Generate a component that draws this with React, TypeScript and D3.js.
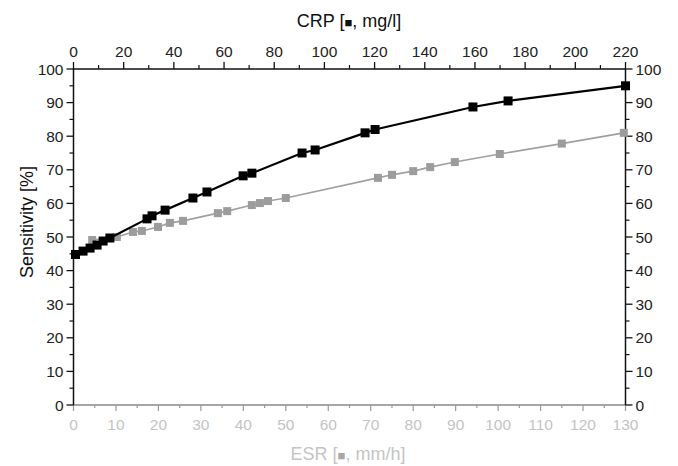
import React, { useRef, useEffect } from 'react';
import * as d3 from 'd3';

// CRP series (black), x in mg/l
const crpValues = [0.8, 3.8, 6.6, 9.4, 11.8, 14.5, 29.3, 31.3, 36.5, 47.6, 53.2, 67.6, 71.1, 91.1, 96.3, 116.2, 120.2, 159.2, 173.2, 220];
const crpSensitivity = [44.8, 45.8, 46.7, 47.6, 48.8, 49.7, 55.4, 56.3, 58.0, 61.6, 63.4, 68.2, 69.0, 75.0, 75.9, 81.0, 82.0, 88.7, 90.5, 95.0];

// ESR series (gray), x in mm/h
const esrValues = [4.4, 10.2, 14.0, 16.1, 19.9, 22.7, 25.8, 34.0, 36.2, 42.0, 43.9, 45.8, 50.0, 71.7, 75.0, 80.0, 84.0, 89.8, 100.4, 115.0, 129.6];
const esrSensitivity = [49.1, 50.0, 51.5, 51.8, 53.0, 54.2, 54.8, 57.1, 57.7, 59.5, 60.1, 60.7, 61.6, 67.6, 68.5, 69.6, 70.8, 72.3, 74.7, 77.8, 81.0];

const crpTicks = [0, 20, 40, 60, 80, 100, 120, 140, 160, 180, 200, 220];
const esrTicks = [0, 10, 20, 30, 40, 50, 60, 70, 80, 90, 100, 110, 120, 130];
const sensTicks = [0, 10, 20, 30, 40, 50, 60, 70, 80, 90, 100];

const FONT = 'Liberation Sans, Arial, Helvetica, sans-serif';

const App = () => {
    const svgRef = useRef(null);
    const width = 678;
    const height = 466;

    useEffect(() => {
        const left = 73.5, right = 625.5, top = 69, bottom = 405;

        d3.select(svgRef.current).selectAll('*').remove();
        const svg = d3.select(svgRef.current);

        const xCrp = d3.scaleLinear().domain([0, 220]).range([left, right]);
        const xEsr = d3.scaleLinear().domain([0, 130]).range([left, right]);
        const y = d3.scaleLinear().domain([0, 100]).range([bottom, top]);

        // minor ticks
        const crpMinor = d3.range(10, 220, 20);
        const esrMinor = d3.range(5, 130, 10);
        const sensMinor = d3.range(5, 100, 10);

        // top axis (CRP)
        const topAx = svg.append('g');
        topAx.append('line').attr('x1', left).attr('x2', right).attr('y1', top).attr('y2', top)
            .attr('stroke', '#111').attr('stroke-width', 1.5);
        topAx.selectAll('.tmaj').data(crpTicks).enter().append('line')
            .attr('x1', (d) => xCrp(d)).attr('x2', (d) => xCrp(d))
            .attr('y1', top).attr('y2', top - 7).attr('stroke', '#111').attr('stroke-width', 1.3);
        topAx.selectAll('.tmin').data(crpMinor).enter().append('line')
            .attr('x1', (d) => xCrp(d)).attr('x2', (d) => xCrp(d))
            .attr('y1', top).attr('y2', top - 4).attr('stroke', '#111').attr('stroke-width', 1.2);
        topAx.selectAll('.tlab').data(crpTicks).enter().append('text')
            .attr('x', (d) => xCrp(d)).attr('y', 57).attr('text-anchor', 'middle')
            .attr('font-family', FONT).attr('font-size', 15.5).attr('fill', '#222').text((d) => d);

        // bottom axis (ESR)
        const botAx = svg.append('g');
        botAx.append('line').attr('x1', left).attr('x2', right).attr('y1', bottom).attr('y2', bottom)
            .attr('stroke', '#888').attr('stroke-width', 1.5);
        botAx.selectAll('.bmaj').data(esrTicks).enter().append('line')
            .attr('x1', (d) => xEsr(d)).attr('x2', (d) => xEsr(d))
            .attr('y1', bottom).attr('y2', bottom + 6).attr('stroke', '#999').attr('stroke-width', 1.2);
        botAx.selectAll('.bmin').data(esrMinor).enter().append('line')
            .attr('x1', (d) => xEsr(d)).attr('x2', (d) => xEsr(d))
            .attr('y1', bottom).attr('y2', bottom + 3).attr('stroke', '#999').attr('stroke-width', 1.2);
        botAx.selectAll('.blab').data(esrTicks).enter().append('text')
            .attr('x', (d) => xEsr(d)).attr('y', 430).attr('text-anchor', 'middle')
            .attr('font-family', FONT).attr('font-size', 15.5).attr('fill', '#c4c4c4').text((d) => d);

        // left and right axes (sensitivity)
        [{ x: left, dir: -1, anchor: 'end' }, { x: right, dir: 1, anchor: 'start' }].forEach((s) => {
            const g = svg.append('g');
            g.append('line').attr('x1', s.x).attr('x2', s.x).attr('y1', top).attr('y2', bottom)
                .attr('stroke', '#111').attr('stroke-width', 1.5);
            g.selectAll('.maj').data(sensTicks).enter().append('line')
                .attr('x1', s.x).attr('x2', s.x + s.dir * 7)
                .attr('y1', (d) => y(d)).attr('y2', (d) => y(d)).attr('stroke', '#111').attr('stroke-width', 1.3);
            g.selectAll('.min').data(sensMinor).enter().append('line')
                .attr('x1', s.x).attr('x2', s.x + s.dir * 4)
                .attr('y1', (d) => y(d)).attr('y2', (d) => y(d)).attr('stroke', '#111').attr('stroke-width', 1.2);
            g.selectAll('.lab').data(sensTicks).enter().append('text')
                .attr('x', s.x + s.dir * 10).attr('y', (d) => y(d) + 5.5).attr('text-anchor', s.anchor)
                .attr('font-family', FONT).attr('font-size', 15.5).attr('fill', '#222').text((d) => d);
        });

        // axis titles
        const crpTitle = svg.append('text').attr('x', 349).attr('y', 27).attr('text-anchor', 'middle')
            .attr('font-family', FONT).attr('font-size', 18).attr('fill', '#111');
        crpTitle.append('tspan').text('CRP [');
        crpTitle.append('tspan').attr('font-size', 13).text('■');
        crpTitle.append('tspan').text(', mg/l]');

        const esrTitle = svg.append('text').attr('x', 348).attr('y', 460).attr('text-anchor', 'middle')
            .attr('font-family', FONT).attr('font-size', 18).attr('fill', '#c4c4c4');
        esrTitle.append('tspan').text('ESR [');
        esrTitle.append('tspan').attr('font-size', 13).attr('fill', '#a8a8a8').text('■');
        esrTitle.append('tspan').text(', mm/h]');

        svg.append('text').attr('transform', 'translate(33,222) rotate(-90)').attr('text-anchor', 'middle')
            .attr('font-family', FONT).attr('font-size', 18).attr('fill', '#111').text('Sensitivity [%]');

        // ESR series
        const esrData = esrValues.map((v, i) => [v, esrSensitivity[i]]);
        const esrLine = d3.line().x((d) => xEsr(d[0])).y((d) => y(d[1]));
        svg.append('path').datum(esrData).attr('d', esrLine).attr('fill', 'none')
            .attr('stroke', '#a0a0a0').attr('stroke-width', 1.6);
        svg.selectAll('.esr').data(esrData).enter().append('rect')
            .attr('x', (d) => xEsr(d[0]) - 4).attr('y', (d) => y(d[1]) - 4)
            .attr('width', 8).attr('height', 8).attr('fill', '#9c9c9c');

        // CRP series
        const crpData = crpValues.map((v, i) => [v, crpSensitivity[i]]);
        const crpLine = d3.line().x((d) => xCrp(d[0])).y((d) => y(d[1]));
        svg.append('path').datum(crpData).attr('d', crpLine).attr('fill', 'none')
            .attr('stroke', '#000').attr('stroke-width', 2.2);
        svg.selectAll('.crp').data(crpData).enter().append('rect')
            .attr('x', (d) => xCrp(d[0]) - 4.5).attr('y', (d) => y(d[1]) - 4.5)
            .attr('width', 9).attr('height', 9).attr('fill', '#000');
    }, []);

    return (
        <svg ref={svgRef} width={width} height={height}
            style={{ position: 'absolute', left: 0, top: 0, background: '#fff' }}></svg>
    );
};

export default App;
